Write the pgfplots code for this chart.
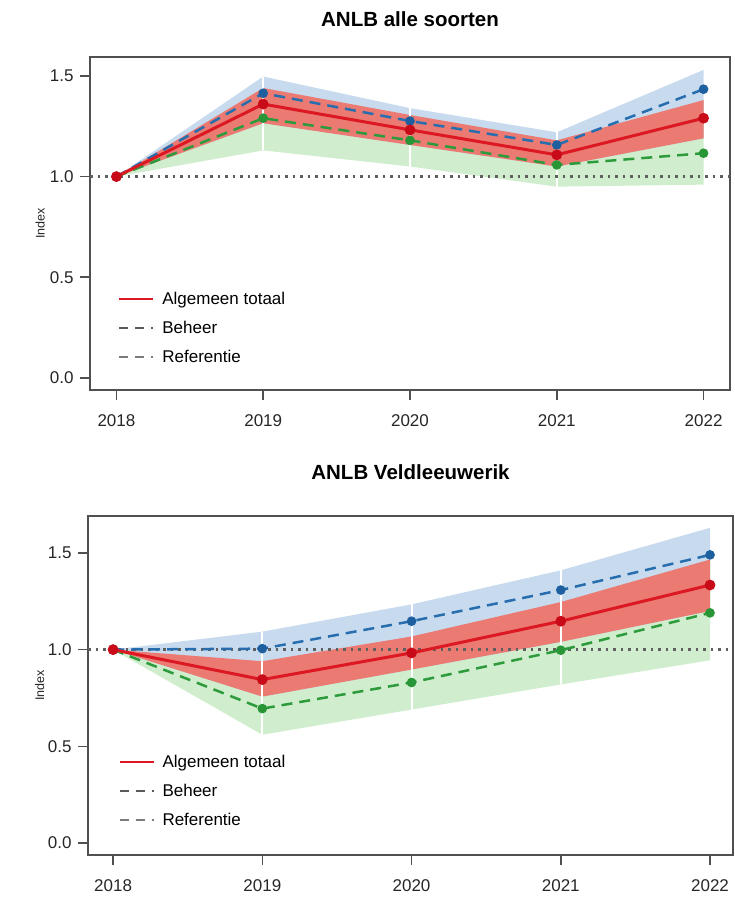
\documentclass[border=0pt]{standalone}
\usepackage{fontspec}
\setmainfont{Liberation Sans}
\usepackage{pgfplots}
\pgfplotsset{compat=1.18}
\definecolor{bandblue}{RGB}{200,219,238}
\definecolor{bandred}{RGB}{234,122,114}
\definecolor{bandgreen}{RGB}{208,237,205}
\definecolor{linered}{RGB}{220,25,35}
\definecolor{lineblue}{RGB}{40,110,175}
\definecolor{linegreen}{RGB}{45,155,60}
\definecolor{mkred}{RGB}{200,10,25}
\definecolor{mkblue}{RGB}{30,95,160}
\definecolor{mkgreen}{RGB}{40,150,55}
\definecolor{framegray}{RGB}{80,80,80}
\definecolor{dotgray}{RGB}{95,95,95}
\definecolor{leggray}{RGB}{90,90,90}
\pgfplotsset{
 anlb/.style={
  scale only axis,
  axis line style={framegray, line width=1.5pt},
  tick style={framegray, line width=1.5pt},
  tick align=outside,
  tick pos=left,
  major tick length=10pt,
  xtick={2018,2019,2020,2021,2022},
  ytick={0,0.5,1,1.5},
  /pgf/number format/assume math mode=true,
  ticklabel style={font=\fontsize{17}{20}\selectfont, text=black!85},
  x tick label style={yshift=-11pt, /pgf/number format/.cd, 1000 sep={}},
  y tick label style={xshift=-3pt, /pgf/number format/.cd, fixed, fixed zerofill, precision=1},
  ylabel={Index},
  ylabel style={font=\fontsize{12.5}{15}\selectfont, text=black!85},
  title style={font=\fontsize{20.5}{24}\selectfont\bfseries, at={(0.5,1)}, anchor=base},
  legend style={draw=none, fill=none, anchor=north west, font=\fontsize{17}{20}\selectfont, row sep=11pt, column sep=6pt, inner sep=0pt},
  legend cell align=left,
  legend image code/.code={\draw[##1] (0pt,0pt) -- (34pt,0pt);},
 },
 band/.style={draw=none, fill=#1, forget plot},
 vsep/.style={white, line width=2pt, forget plot},
 refline/.style={dotgray, line width=2.5pt, dash pattern=on 2.5pt off 5pt, forget plot},
 totline/.style={linered, line width=3pt, mark=*, mark size=3.8pt, mark options={fill=mkred, draw=mkred, solid}, forget plot},
 behline/.style={lineblue, line width=2.5pt, dash pattern=on 11pt off 7pt, mark=*, mark size=3.5pt, mark options={fill=mkblue, draw=mkblue, solid}, forget plot},
 refsline/.style={linegreen, line width=2.5pt, dash pattern=on 11pt off 7pt, mark=*, mark size=3.5pt, mark options={fill=mkgreen, draw=mkgreen, solid}, forget plot},
}
\begin{document}
\begin{tikzpicture}
\useasboundingbox (0,0) rectangle (734pt,897pt);
% ---------------- top panel ----------------
\begin{axis}[anlb,
  at={(90pt,507pt)}, anchor=south west, width=640pt, height=333pt,
  xmin=2017.82, xmax=2022.18, ymin=-0.06, ymax=1.594,
  title={ANLB alle soorten}, title style={yshift=24pt},
  ylabel style={at={(rel axis cs:-0.078,0.5)}, anchor=center},
  legend style={at={(rel axis cs:0.044,0.30)}},
]
% green band: ref_lo .. tot_hi
\addplot[band=bandgreen] coordinates {(2018,1)(2019,1.44)(2020,1.306)(2021,1.18)(2022,1.38)(2022,0.96)(2021,0.95)(2020,1.05)(2019,1.13)(2018,1)} -- cycle;
% blue band: tot_lo .. beh_hi
\addplot[band=bandblue] coordinates {(2018,1)(2019,1.497)(2020,1.34)(2021,1.22)(2022,1.53)(2022,1.19)(2021,1.05)(2020,1.157)(2019,1.265)(2018,1)} -- cycle;
% red band: tot_lo .. tot_hi
\addplot[band=bandred] coordinates {(2018,1)(2019,1.44)(2020,1.306)(2021,1.18)(2022,1.38)(2022,1.19)(2021,1.05)(2020,1.157)(2019,1.265)(2018,1)} -- cycle;
\addplot[vsep] coordinates {(2019,1.13)(2019,1.497)};
\addplot[vsep] coordinates {(2020,1.05)(2020,1.34)};
\addplot[vsep] coordinates {(2021,0.95)(2021,1.22)};
\addplot[refline] coordinates {(2017.82,1)(2022.18,1)};
\addplot[refsline] coordinates {(2018,1)(2019,1.29)(2020,1.18)(2021,1.058)(2022,1.116)};
\addplot[behline] coordinates {(2018,1)(2019,1.414)(2020,1.276)(2021,1.157)(2022,1.434)};
\addplot[totline] coordinates {(2018,1)(2019,1.36)(2020,1.232)(2021,1.108)(2022,1.29)};
\addlegendimage{linered, line width=2pt}
\addlegendentry{Algemeen totaal}
\addlegendimage{leggray, line width=2pt, dash pattern=on 9pt off 7pt}
\addlegendentry{Beheer}
\addlegendimage{leggray!80, line width=2pt, dash pattern=on 9pt off 7pt}
\addlegendentry{Referentie}
\end{axis}
% ---------------- bottom panel ----------------
\begin{axis}[anlb,
  at={(88pt,42pt)}, anchor=south west, width=645pt, height=339pt,
  xmin=2017.832, xmax=2022.154, ymin=-0.062, ymax=1.691,
  title={ANLB Veldleeuwerik}, title style={yshift=30pt},
  ylabel style={at={(rel axis cs:-0.075,0.5)}, anchor=center},
  legend style={at={(rel axis cs:0.047,0.30)}},
]
\addplot[band=bandgreen] coordinates {(2018,1)(2019,0.94)(2020,1.068)(2021,1.246)(2022,1.466)(2022,0.945)(2021,0.82)(2020,0.69)(2019,0.56)(2018,1)} -- cycle;
\addplot[band=bandblue] coordinates {(2018,1)(2019,1.093)(2020,1.234)(2021,1.41)(2022,1.63)(2022,1.2)(2021,1.04)(2020,0.897)(2019,0.757)(2018,1)} -- cycle;
\addplot[band=bandred] coordinates {(2018,1)(2019,0.94)(2020,1.068)(2021,1.246)(2022,1.466)(2022,1.2)(2021,1.04)(2020,0.897)(2019,0.757)(2018,1)} -- cycle;
\addplot[vsep] coordinates {(2019,0.56)(2019,1.093)};
\addplot[vsep] coordinates {(2020,0.69)(2020,1.234)};
\addplot[vsep] coordinates {(2021,0.82)(2021,1.41)};
\addplot[refline] coordinates {(2017.832,1)(2022.154,1)};
\addplot[refsline] coordinates {(2018,1)(2019,0.695)(2020,0.83)(2021,0.997)(2022,1.19)};
\addplot[behline] coordinates {(2018,1)(2019,1.005)(2020,1.147)(2021,1.308)(2022,1.49)};
\addplot[totline] coordinates {(2018,1)(2019,0.845)(2020,0.983)(2021,1.147)(2022,1.334)};
\addlegendimage{linered, line width=2pt}
\addlegendentry{Algemeen totaal}
\addlegendimage{leggray, line width=2pt, dash pattern=on 9pt off 7pt}
\addlegendentry{Beheer}
\addlegendimage{leggray!80, line width=2pt, dash pattern=on 9pt off 7pt}
\addlegendentry{Referentie}
\end{axis}
\end{tikzpicture}
\end{document}
